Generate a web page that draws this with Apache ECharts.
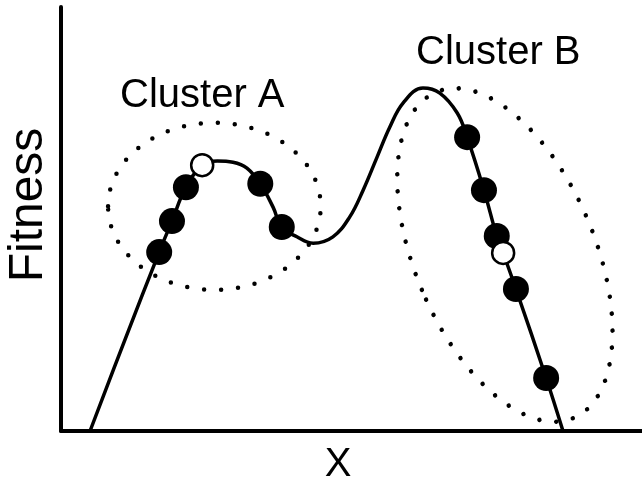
<!DOCTYPE html>
<html>
<head>
<meta charset="utf-8">
<script src="https://cdn.jsdelivr.net/npm/echarts@6/dist/echarts.min.js"></script>
<style>
  html, body { margin: 0; padding: 0; background: #fff; }
  #main { width: 642px; height: 484px; }
</style>
</head>
<body>
<div id="main"></div>
<script>
// fitness landscape, values (x 0..100, fitness 0..100)
var curveX = [5.0, 11.0, 16.9, 19.1, 21.5, 24.4, 26.9, 29.6, 32.0, 34.3, 36.5, 38.0, 40.6, 43.4,
  46.8, 49.7, 52.0, 54.4, 56.6, 58.9, 62.3, 65.2, 68.2, 69.9, 72.8, 75.0, 76.1, 78.3, 83.5, 86.4];
var curveY = [0, 21.5, 42.2, 49.5, 57.5, 62.7, 63.7, 63.4, 62.0, 58.3, 52.8, 48.1, 45.8, 44.3,
  45.8, 50.5, 56.8, 64.6, 71.7, 77.4, 80.9, 79.7, 75.0, 69.3, 56.8, 46.0, 42.0, 33.5, 12.5, 0];

// individuals (filled) and the open ones
var filledX = [16.9, 19.1, 21.5, 34.3, 38.0, 69.9, 72.8, 75.0, 78.3, 83.5];
var filledY = [42.2, 49.5, 57.5, 58.3, 48.1, 69.3, 56.8, 46.0, 33.5, 12.5];
var openX = [24.3, 76.1];
var openY = [62.7, 42.0];

// clusters: centre x, centre y, half width, half height, tilt (deg)
var clusterA = [26.4, 53.0, 18.3, 19.7, 0];
var clusterB = [76.4, 41.5, 15.5, 41.7, 22.8];

function zip(a, b) {
  var out = [];
  for (var i = 0; i < a.length; i++) out.push([a[i], b[i]]);
  return out;
}

var myChart = echarts.init(document.getElementById('main'));
var font = '"Liberation Sans", Arial, Helvetica, sans-serif';

var option = {
  animation: false,
  backgroundColor: '#fff',
  grid: { left: 61, right: 0, top: 7, bottom: 53 },
  xAxis: {
    type: 'value', min: 0, max: 100,
    axisLine: { show: true, lineStyle: { color: '#000', width: 4 } },
    axisTick: { show: false }, axisLabel: { show: false }, splitLine: { show: false }
  },
  yAxis: {
    type: 'value', min: 0, max: 100,
    axisLine: { show: true, lineStyle: { color: '#000', width: 4 } },
    axisTick: { show: false }, axisLabel: { show: false }, splitLine: { show: false }
  },
  graphic: [
    { type: 'text', x: 120, y: 96, style: { text: 'Cluster A', font: '40px ' + font, fill: '#000', verticalAlign: 'middle' } },
    { type: 'text', x: 416, y: 53, style: { text: 'Cluster B', font: '40px ' + font, fill: '#000', verticalAlign: 'middle' } },
    { type: 'text', x: 29, y: 205, rotation: Math.PI / 2, style: { text: 'Fitness', font: '48px ' + font, fill: '#000', align: 'center', verticalAlign: 'middle' } },
    { type: 'text', x: 338, y: 465, style: { text: 'X', font: '40px ' + font, fill: '#000', align: 'center', verticalAlign: 'middle' } }
  ],
  series: [
    {
      type: 'custom',
      silent: true,
      data: [clusterA, clusterB],
      renderItem: function (params, api) {
        var c = api.coord([api.value(0), api.value(1)]);
        var s = api.size([api.value(2), api.value(3)]);
        return {
          type: 'ellipse',
          x: c[0], y: c[1],
          rotation: api.value(4) * Math.PI / 180,
          shape: { cx: 0, cy: 0, rx: s[0], ry: s[1] },
          style: { fill: 'none', stroke: '#000', lineWidth: 4.5, lineDash: [0, 17], lineCap: 'round' }
        };
      },
      z: 1
    },
    {
      type: 'line',
      data: zip(curveX, curveY),
      smooth: 0.4,
      showSymbol: false,
      lineStyle: { color: '#000', width: 3.5 },
      z: 2
    },
    {
      type: 'scatter',
      data: zip(filledX, filledY),
      symbolSize: 26,
      itemStyle: { color: '#000', opacity: 1 },
      z: 3
    },
    {
      type: 'scatter',
      data: zip(openX, openY),
      symbolSize: 22,
      itemStyle: { color: '#fff', borderColor: '#000', borderWidth: 2.5, opacity: 1 },
      z: 4
    }
  ]
};
myChart.setOption(option);
</script>
</body>
</html>
